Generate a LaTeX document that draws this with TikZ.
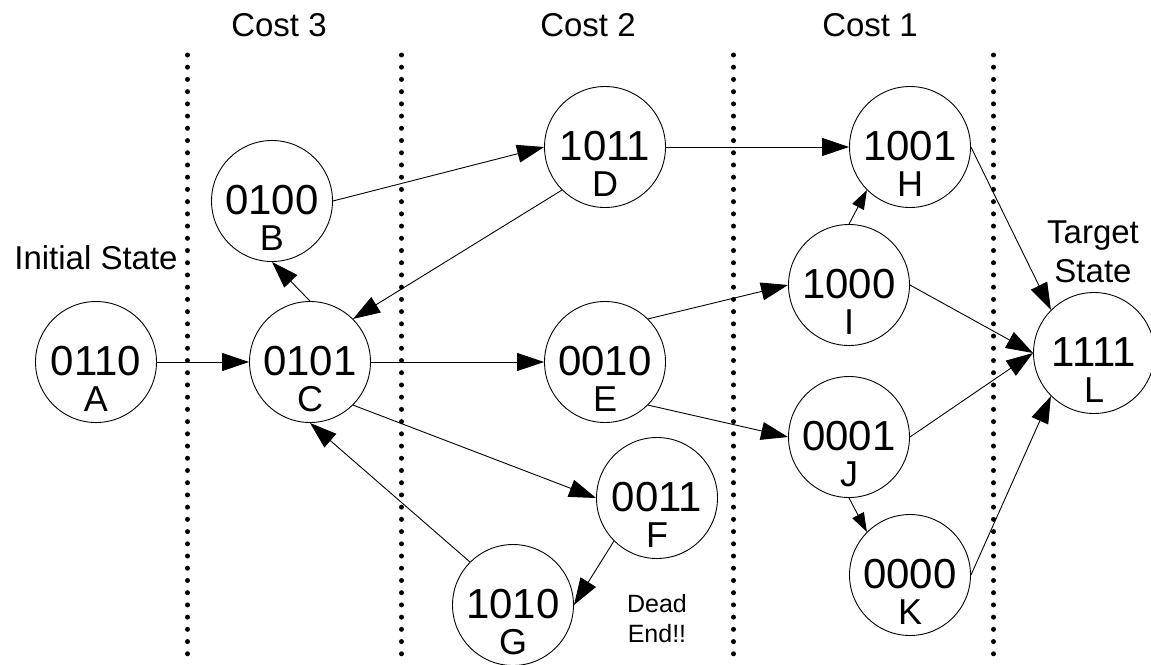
\documentclass[tikz,border=0pt]{standalone}
\usepackage{fontspec}
\setmainfont{Liberation Sans}
\usetikzlibrary{arrows.meta}

% a state: circle with its bit string and its letter below
\newcommand\mystate[5]{%
  \node[state] (#1) at (#2,#3) {};
  \node[numtext] (#1num) at (#2,#3+13) {#4};
  \node[lettext] (#1let) at (#2,#3+49) {#5};
}

\begin{document}
\begin{tikzpicture}[x=1pt,y=-1pt,
  state/.style={circle,draw,fill=white,line width=0.9pt,minimum size=121pt,inner sep=0pt},
  numtext/.style={anchor=base,inner sep=0pt,font=\fontsize{42}{50}\selectfont},
  lettext/.style={anchor=base,inner sep=0pt,font=\fontsize{36}{43}\selectfont},
  caption/.style={anchor=base,inner sep=0pt,font=\fontsize{33}{40}\selectfont},
  note/.style={anchor=base,inner sep=0pt,font=\fontsize{25}{30}\selectfont},
  edge/.style={line width=0.9pt,-{Triangle[length=27pt,width=18pt]}},
  shortedge/.style={line width=0.9pt,-{Triangle[length=19pt,width=13pt]}},
  divider/.style={line width=5pt,line cap=round,dash pattern=on 0pt off 12.22pt}]

\useasboundingbox (0,0) rectangle (1151,664);
\fill[white] (0,0) rectangle (1151,664);

% cost column dividers
\foreach \dx [count=\i] in {187.5,401.5,733.5,993.5}{
  \coordinate (d\i top) at (\dx,55);
  \coordinate (d\i bot) at (\dx,654);
  \draw[divider] (d\i top) -- (d\i bot);
}

% column headings and notes
\node[caption] (cost3) at (279,36) {Cost 3};
\node[caption] (cost2) at (588,36) {Cost 2};
\node[caption] (cost1) at (870,36) {Cost 1};
\node[caption] (initial) at (96,269) {Initial State};
\node[caption] (target1) at (1093,243) {Target};
\node[caption] (target2) at (1093,282) {State};
\node[note] (dead1) at (657,612) {Dead};
\node[note] (dead2) at (657,642) {End!!};

% states
\mystate{A}{96}{362}{0110}{A}
\mystate{B}{272}{201}{0100}{B}
\mystate{C}{310}{362}{0101}{C}
\mystate{D}{605}{147}{1011}{D}
\mystate{E}{605}{362}{0010}{E}
\mystate{F}{657}{498}{0011}{F}
\mystate{G}{513}{605}{1010}{G}
\mystate{H}{910}{147}{1001}{H}
\mystate{I}{849}{285}{1000}{I}
\mystate{J}{849}{437}{0001}{J}
\mystate{K}{910}{575}{0000}{K}
\mystate{L}{1094}{353}{1111}{L}

% transitions
\draw[edge] (A.east) -- (C.west);
\draw[edge] (C.north) -- (B.south);
\draw[edge] (B.east) -- (D.west);
\draw[edge] (D.south west) -- (C.north east);
\draw[edge] (D.east) -- (H.west);
\draw[edge] (C.east) -- (E.west);
\draw[edge] (C.south east) -- (F.west);
\draw[edge] (F.south west) -- (G.east);
\draw[edge] (G.north west) -- (C.south);
\draw[edge] (E.north east) -- (I.west);
\draw[edge] (E.south east) -- (J.west);
\draw[shortedge] (I.north) -- (H.south west);
\draw[shortedge] (J.south) -- (K.north west);
\draw[edge] (H.east) -- (L.north west);
\draw[edge] (I.east) -- (L.west);
\draw[edge] (J.east) -- (L.west);
\draw[edge] (K.east) -- (L.south west);
\end{tikzpicture}
\end{document}
